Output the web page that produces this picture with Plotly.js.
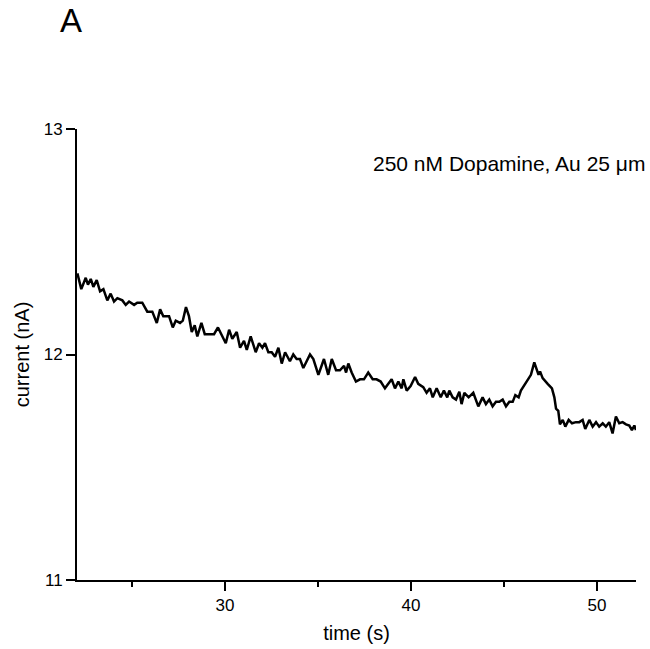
<!DOCTYPE html>
<html>
<head>
<meta charset="utf-8">
<script src="https://cdn.plot.ly/plotly-3.0.1.min.js"></script>
<style>html,body{margin:0;padding:0;background:#fff;}</style>
</head>
<body>
<div id="chart" style="width:650px;height:649px;"></div>
<script>
// time (s)
const time = [
22.06,22.27,22.51,22.63,22.78,22.92,23.10,23.28,23.46,23.67,23.85,24.03,24.21,24.48,24.66,24.84,
25.11,25.28,25.55,25.82,26.09,26.33,26.51,26.68,26.99,27.19,27.35,27.58,27.73,27.90,28.06,28.21,
28.37,28.51,28.73,28.91,29.23,29.41,29.62,29.80,30.04,30.22,30.39,30.63,30.81,31.02,31.17,31.38,
31.65,31.83,32.01,32.15,32.33,32.51,32.69,32.87,33.05,33.23,33.49,33.67,33.85,34.03,34.21,34.57,
34.75,35.02,35.32,35.55,35.74,35.97,36.18,36.40,36.51,36.63,36.81,37.04,37.26,37.47,37.70,37.94,
38.15,38.37,38.60,38.96,39.14,39.32,39.50,39.59,39.77,39.98,40.22,40.39,40.66,40.84,41.02,41.17,
41.38,41.60,41.77,41.95,42.06,42.24,42.42,42.60,42.72,42.87,43.10,43.35,43.62,43.85,44.03,44.21,
44.39,44.57,44.75,44.93,45.11,45.29,45.47,45.61,45.79,45.91,46.09,46.27,46.45,46.63,46.76,46.86,
46.94,47.08,47.35,47.58,47.71,47.80,47.92,48.01,48.16,48.30,48.48,48.66,48.87,49.05,49.23,49.37,
49.59,49.77,49.95,50.12,50.31,50.48,50.66,50.84,51.02,51.20,51.38,51.56,51.74,51.88,52.01,52.10
];
// current (nA)
const current = [
12.36,12.29,12.34,12.31,12.335,12.30,12.33,12.28,12.29,12.24,12.27,12.235,12.25,12.24,12.22,12.235,
12.22,12.23,12.23,12.19,12.19,12.14,12.20,12.17,12.17,12.12,12.15,12.14,12.15,12.21,12.17,12.10,
12.13,12.08,12.14,12.09,12.09,12.09,12.12,12.09,12.05,12.11,12.07,12.10,12.03,12.06,12.02,12.08,
12.01,12.05,12.03,12.05,12.01,12.01,11.99,12.03,11.96,12.01,11.97,12.00,11.98,11.98,11.94,12.00,
11.98,11.91,11.98,11.91,11.98,11.93,11.93,11.95,11.92,11.96,11.92,11.88,11.89,11.89,11.92,11.89,
11.89,11.88,11.85,11.89,11.85,11.88,11.85,11.89,11.84,11.86,11.90,11.87,11.855,11.83,11.85,11.81,
11.85,11.81,11.84,11.81,11.84,11.81,11.80,11.835,11.78,11.83,11.81,11.83,11.77,11.81,11.78,11.80,
11.77,11.79,11.79,11.80,11.77,11.79,11.79,11.82,11.81,11.84,11.865,11.89,11.91,11.965,11.93,11.91,
11.925,11.895,11.87,11.85,11.81,11.76,11.75,11.69,11.71,11.68,11.71,11.695,11.70,11.70,11.71,11.67,
11.71,11.68,11.70,11.68,11.695,11.68,11.70,11.65,11.725,11.695,11.70,11.69,11.685,11.665,11.685,11.665
];
const xTickVals = [30, 40, 50];
const yTickVals = [11, 12, 13];

const FONT = '"Liberation Sans", Arial, sans-serif';

const trace = {
  x: time, y: current, type: 'scatter', mode: 'lines',
  line: {color: '#000', width: 2.5},
  hoverinfo: 'skip'
};

const layout = {
  width: 650, height: 649,
  margin: {l: 77, r: 14, t: 129, b: 69},
  paper_bgcolor: '#fff', plot_bgcolor: '#fff',
  showlegend: false,
  font: {family: FONT, color: '#000'},
  xaxis: {
    range: [22.04, 52.1],
    tickvals: xTickVals,
    ticks: 'outside', ticklen: 9, tickwidth: 2, tickcolor: '#000',
    minor: {dtick: 5, tick0: 0, ticks: 'outside', ticklen: 5, tickwidth: 2, tickcolor: '#000', showgrid: false},
    showline: true, linecolor: '#000', linewidth: 2,
    showgrid: false, zeroline: false,
    tickfont: {size: 17, family: FONT},
    title: {text: 'time (s)', font: {size: 20, family: FONT}, standoff: 12}
  },
  yaxis: {
    range: [11, 13],
    tickvals: yTickVals,
    ticks: 'outside', ticklen: 9, tickwidth: 2, tickcolor: '#000',
    showline: true, linecolor: '#000', linewidth: 2,
    showgrid: false, zeroline: false,
    tickfont: {size: 17, family: FONT},
    title: {text: 'current (nA)', font: {size: 20, family: FONT}, standoff: 9}
  },
  annotations: [
    {text: 'A', xref: 'paper', yref: 'paper', x: -0.0107, y: 1.2395,
     xanchor: 'center', yanchor: 'middle', showarrow: false,
     font: {size: 33, family: FONT, color: '#000'}},
    {text: '250 nM Dopamine, Au 25 \u03bcm', xref: 'paper', yref: 'paper',
     x: 1.0197, y: 0.9246, xanchor: 'right', yanchor: 'middle', showarrow: false,
     font: {size: 21, family: FONT, color: '#000'}}
  ]
};

Plotly.newPlot('chart', [trace], layout, {displayModeBar: false, staticPlot: true});
</script>
</body>
</html>
